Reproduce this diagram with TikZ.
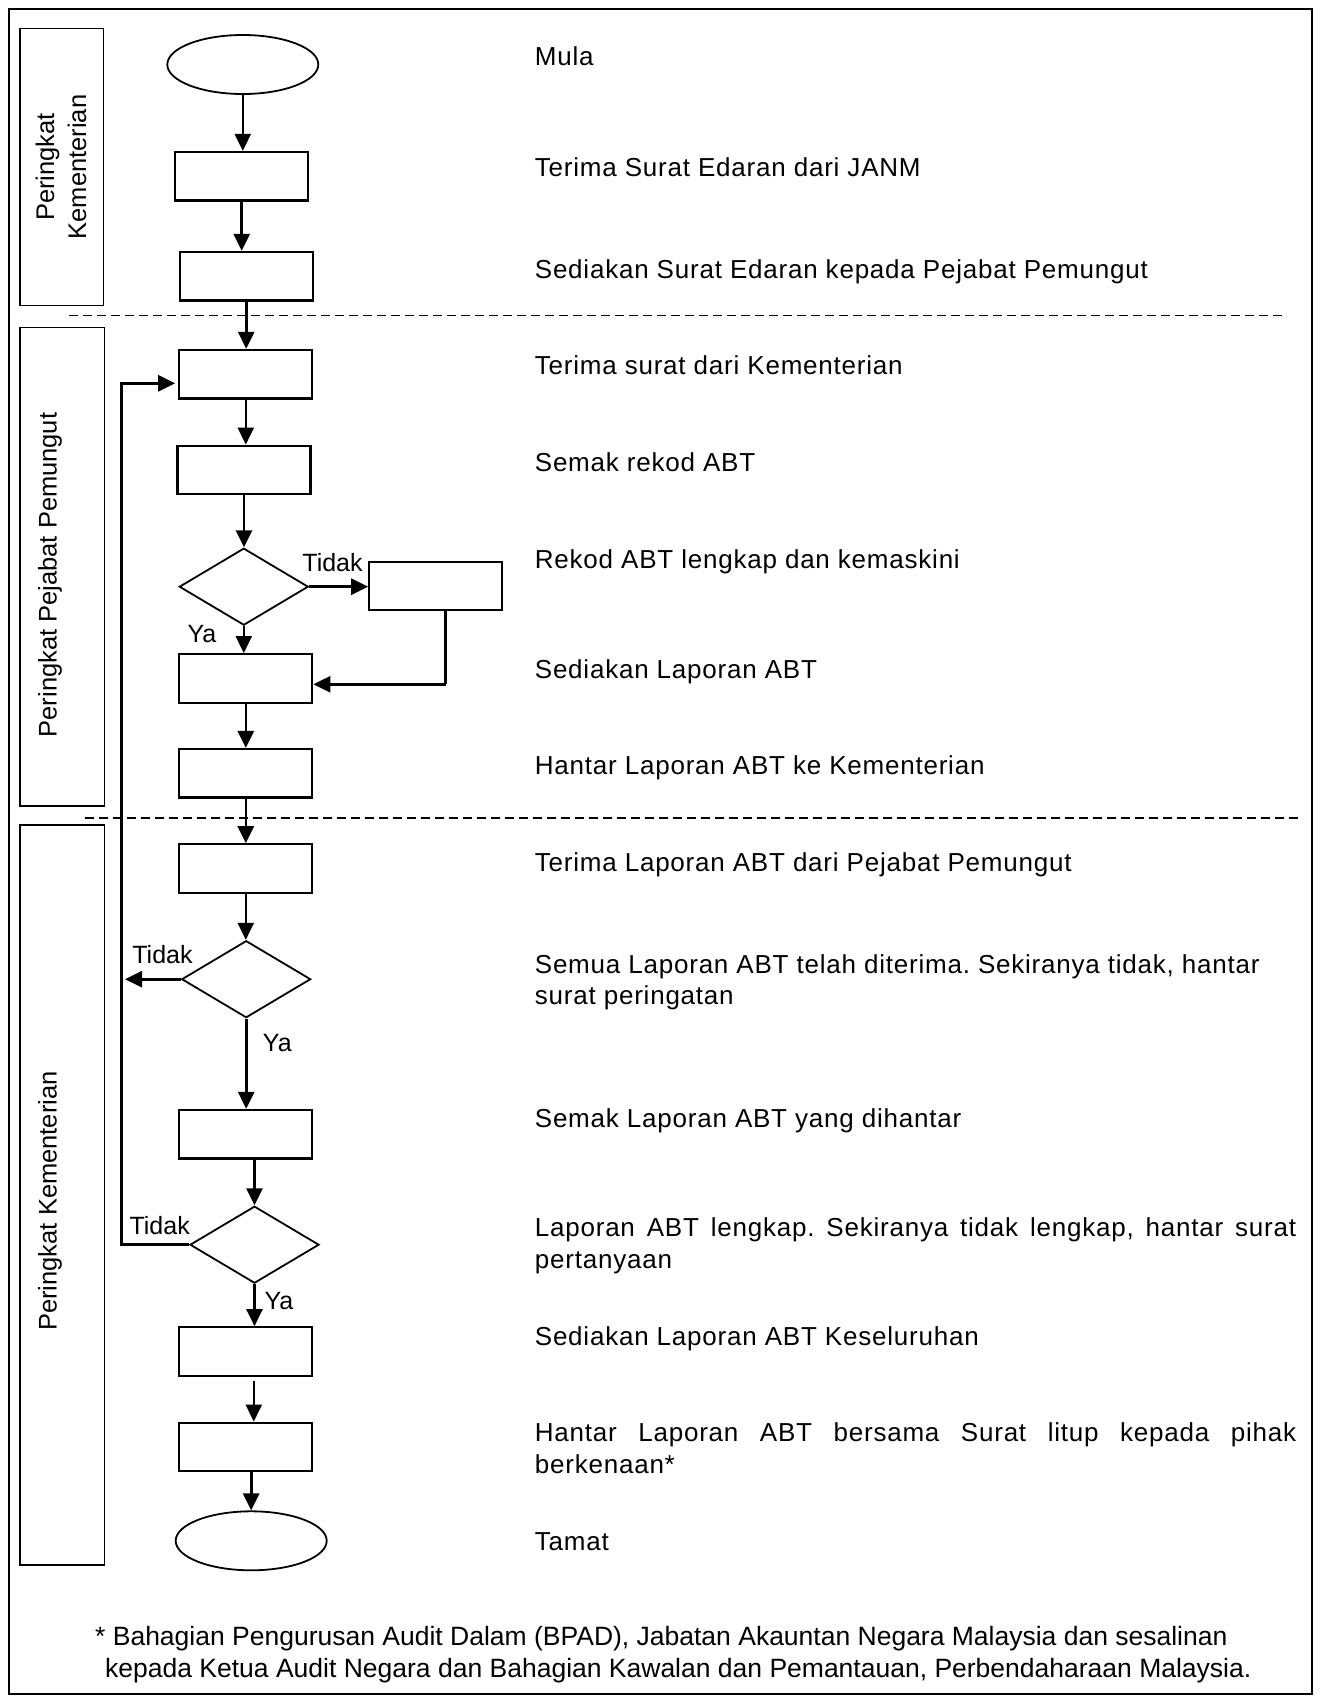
\documentclass[tikz,border=0pt]{standalone}
\usepackage{fontspec}
\setmainfont{Liberation Sans}
\newfontfamily\bodyfont[LetterSpace=3]{Liberation Sans}
\usetikzlibrary{arrows.meta,shapes.geometric,calc}
\frenchspacing
\begin{document}
\begin{tikzpicture}[x=1pt,y=-1pt,
  box/.style={draw,line width=2.2pt,rectangle,inner sep=0pt,minimum width=133pt,minimum height=48.5pt},
  dec/.style={draw,line width=1.8pt,diamond,inner sep=0pt,minimum width=129pt,minimum height=77pt},
  term/.style={draw,line width=1.8pt,ellipse,inner sep=0pt,minimum width=151pt,minimum height=59pt},
  arr/.style={line width=2.6pt,-{Triangle[length=17pt,width=16pt]}},
  conn/.style={line width=2.6pt},
  sep/.style={line width=1.8pt,dash pattern=on 9pt off 5pt},
  lane/.style={draw,line width=1.4pt},
  lanetxt/.style={rotate=90,align=center,inner sep=0pt,font=\fontsize{25.5}{32}\selectfont},
  txt/.style={anchor=base west,inner sep=0pt,font=\bodyfont\fontsize{26}{31.5}\selectfont\frenchspacing},
  lbl/.style={inner sep=0pt,font=\fontsize{25}{30}\selectfont},
  foot/.style={anchor=base west,inner sep=0pt,font=\fontsize{26.5}{31.5}\selectfont\frenchspacing}]

\useasboundingbox (0,0) rectangle (1320,1701);
\draw[line width=2pt] (8.5,8.5) rectangle (1312,1694);

% lanes
\draw[lane] (20,28.3) rectangle (103.3,305.7);
\node[lanetxt] (L1) at (61,167) {Peringkat\\Kementerian};
\draw[lane] (20,327.3) rectangle (104.5,806);
\node[lanetxt] (L2) at (50,575) {Peringkat Pejabat Pemungut};
\draw[lane] (20,825) rectangle (104.5,1565);
\node[lanetxt] (L3) at (50,1201) {Peringkat Kementerian};

% separators
\draw[sep] (69,315.5) -- (1283,315.5);
\draw[sep] (85,818) -- (1298,818);

% shapes
\node[term] (e1) at (242.8,64.5) {};
\node[box] (b1) at (241.7,176.2) {};
\node[box] (b2) at (246.2,276.2) {};
\node[box] (b3) at (245.8,374.2) {};
\node[box] (b4) at (244,469.9) {};
\node[dec] (d1) at (243.8,586.7) {};
\node[box] (bs) at (435.8,585.9) {};
\node[box] (b5) at (245.8,678.4) {};
\node[box] (b6) at (245.8,773.3) {};
\node[box] (b7) at (245.8,868.5) {};
\node[dec] (d2) at (246.2,979.2) {};
\node[box] (b8) at (245.8,1134.2) {};
\node[dec] (d3) at (254.5,1244.7) {};
\node[box] (b9) at (245.8,1351.5) {};
\node[box] (b10) at (245.8,1446.9) {};
\node[term] (e2) at (251.2,1540.8) {};

% connectors
\draw[arr] (e1.south) -- (e1.south |- b1.north);
\draw[arr] (b1.south) -- (b1.south |- b2.north);
\draw[arr] (b2.south) -- (b2.south |- b3.north);
\draw[arr] (b3.south) -- (b3.south |- b4.north);
\draw[arr] (b4.south) -- (b4.south |- d1.north);
\draw[arr] (d1.east) -- (bs.west |- d1.east);
\coordinate (c1) at (445.7,684.3);
\draw[conn] (bs.south -| c1) -- (c1);
\draw[arr] (c1) -- (b5.east |- c1);
\draw[arr] (d1.south) -- (d1.south |- b5.north);
\draw[arr] (b5.south) -- (b5.south |- b6.north);
\draw[arr] (b6.south) -- (b6.south |- b7.north);
\draw[arr] (b7.south) -- (b7.south |- d2.north);
\coordinate (lp) at (121.7,383.3);
\draw[arr] (d2.west) -- ($(d2.west -| lp)+(3.3,0)$);
\draw[arr] (d3.west) -- (d3.west -| lp) -- (lp) -- ($(b3.west |- lp)+(-3,0)$);
\draw[arr] (d2.south) -- (d2.south |- b8.north);
\draw[arr] (d3.north |- b8.south) -- (d3.north);
\draw[arr] (d3.south) -- (d3.south |- b9.north);
\draw[arr] ($(b9.south)+(8,4.3)$) -- ($(b10.north)+(8,0)$);
\draw[arr] (e2.north |- b10.south) -- (e2.north);

% branch labels
\node[lbl] (t1) at (332.5,563) {Tidak};
\node[lbl] (y1) at (202,634) {Ya};
\node[lbl] (t2) at (162.5,954.3) {Tidak};
\node[lbl] (y2) at (277.3,1043) {Ya};
\node[lbl] (t3) at (159.7,1226) {Tidak};
\node[lbl] (y3) at (279,1301) {Ya};

% descriptions
\node[txt] (r1) at (534.7,65.7) {Mula};
\node[txt] (r2) at (534.7,176.7) {Terima Surat Edaran dari JANM};
\node[txt] (r3) at (534.7,278) {Sediakan Surat Edaran kepada Pejabat Pemungut};
\node[txt] (r4) at (534.7,374.5) {Terima surat dari Kementerian};
\node[txt] (r5) at (534.7,471) {Semak rekod ABT};
\node[txt] (r6) at (534.7,568.7) {Rekod ABT lengkap dan kemaskini};
\node[txt] (r7) at (534.7,678) {Sediakan Laporan ABT};
\node[txt] (r8) at (534.7,774.7) {Hantar Laporan ABT ke Kementerian};
\node[txt] (r9) at (534.7,871.3) {Terima Laporan ABT dari Pejabat Pemungut};
\node[txt] (r10a) at (534.7,973.2) {Semua Laporan ABT telah diterima. Sekiranya tidak, hantar};
\node[txt] (r10b) at (534.7,1004.7) {surat peringatan};
\node[txt] (r11) at (534.7,1127.2) {Semak Laporan ABT yang dihantar};
\node[txt] (r12a) at (534.7,1236.8) {\makebox[761.3pt][s]{Laporan ABT lengkap. Sekiranya tidak lengkap, hantar surat}};
\node[txt] (r12b) at (534.7,1268.3) {pertanyaan};
\node[txt] (r13) at (534.7,1345.2) {Sediakan Laporan ABT Keseluruhan};
\node[txt] (r14a) at (534.7,1441.8) {\makebox[761.3pt][s]{Hantar Laporan ABT bersama Surat litup kepada pihak}};
\node[txt] (r14b) at (534.7,1473.3) {berkenaan*};
\node[txt] (r15) at (534.7,1550.2) {Tamat};

% footnote
\node[foot] (f1) at (95,1645.7) {* Bahagian Pengurusan Audit Dalam (BPAD), Jabatan Akauntan Negara Malaysia dan sesalinan};
\node[foot] (f2) at (105,1677) {kepada Ketua Audit Negara dan Bahagian Kawalan dan Pemantauan, Perbendaharaan Malaysia.};
\end{tikzpicture}
\end{document}
